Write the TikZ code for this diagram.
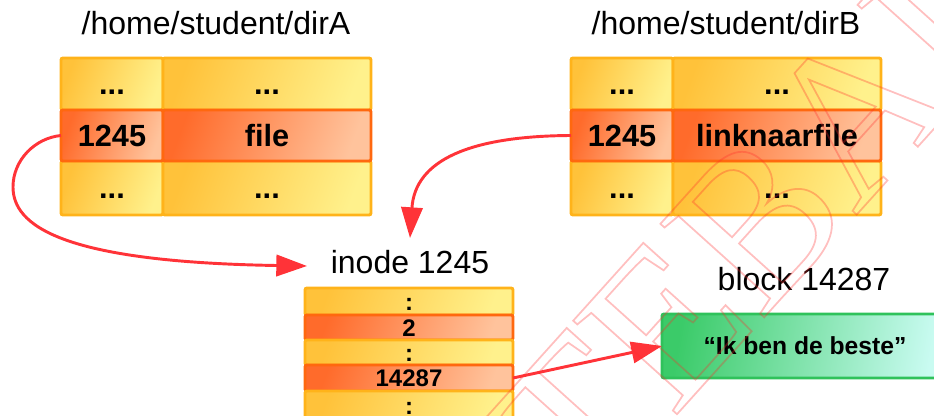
\documentclass[tikz,border=0pt]{standalone}
\usepackage{fontspec}
\setmainfont{Liberation Sans}
\newfontfamily\wmfont{Liberation Serif}
\usetikzlibrary{arrows.meta}

\definecolor{ybord}{HTML}{FFB31A}
\definecolor{yleft}{HTML}{FFC23A}
\definecolor{yright}{HTML}{FFF18C}
\definecolor{obord}{HTML}{FF680F}
\definecolor{oleft}{HTML}{FF6B2B}
\definecolor{oright}{HTML}{FFC39C}
\definecolor{gbord}{HTML}{2FC25B}
\definecolor{gleft}{HTML}{3BCB69}
\definecolor{gright}{HTML}{C9FBF1}
\definecolor{linkred}{HTML}{FF3338}
\definecolor{wmred}{HTML}{FF2A2A}

\begin{document}
\begin{tikzpicture}[x=0.75pt,y=-0.75pt,
  every node/.style={inner sep=0pt, outer sep=0pt},
  sz/.style 2 args={minimum width=#1*0.75pt, minimum height=#2*0.75pt},
  cellbase/.style={rectangle, rounded corners=1.5pt, line width=2.2pt, text depth=0pt},
  dirtext/.style={font=\bfseries\fontsize{23}{23}\selectfont, text height=16.5pt},
  inotext/.style={font=\bfseries\fontsize{18}{18}\selectfont, text height=12.9pt},
  ycell/.style={cellbase, draw=ybord, left color=yleft, right color=yright, shading angle=70},
  ocell/.style={cellbase, draw=obord, left color=oleft, right color=oright, shading angle=70},
  gcell/.style={cellbase, draw=gbord, left color=gleft, right color=gright, shading angle=80,
    font=\bfseries\fontsize{18.5}{18.5}\selectfont, text height=13.2pt},
  title/.style={anchor=base, font=\fontsize{24}{24}\selectfont},
  link/.style={draw=linkred, line width=2.2pt, -{Triangle[length=23pt,width=16pt]}}
]
\useasboundingbox (0,0) rectangle (934,416);

% directory /home/student/dirA
\node[title] (titleA) at (216,35) {/home/student/dirA};
\node[ycell, dirtext, sz={102}{52}] (a11) at (112,84) {...};
\node[ycell, dirtext, sz={208}{52}] (a12) at (267,84) {...};
\node[ycell, dirtext, sz={102}{54}] (a31) at (112,188) {...};
\node[ycell, dirtext, sz={208}{54}] (a32) at (267,188) {...};
\node[ocell, dirtext, sz={102}{51}] (a21) at (112,135.5) {1245};
\node[ocell, dirtext, sz={208}{51}] (a22) at (267,135.5) {file};

% directory /home/student/dirB
\node[title] (titleB) at (726,35) {/home/student/dirB};
\node[ycell, dirtext, sz={102}{52}] (b11) at (622,84) {...};
\node[ycell, dirtext, sz={208}{52}] (b12) at (777,84) {...};
\node[ycell, dirtext, sz={102}{54}] (b31) at (622,188) {...};
\node[ycell, dirtext, sz={208}{54}] (b32) at (777,188) {...};
\node[ocell, dirtext, sz={102}{51}] (b21) at (622,135.5) {1245};
\node[ocell, dirtext, sz={208}{51}] (b22) at (777,135.5) {linknaarfile};

% inode 1245
\node[title] (inolabel) at (410,274) {inode 1245};
\node[ycell, inotext, sz={208}{27}] (i1) at (409,301.5) {:};
\node[ocell, inotext, sz={208}{25}] (i2) at (409,327.5) {2};
\node[ycell, inotext, sz={208}{25}] (i3) at (409,352.5) {:};
\node[ocell, inotext, sz={208}{26}] (i4) at (409,378) {14287};
\node[ycell, inotext, sz={208}{29}] (i5) at (409,405.5) {:};

% data block 14287
\node[title] (blklabel) at (804,291) {block 14287};
\node[gcell, sz={286}{64}] (blk) at (805,346) {“Ik ben de beste”};

% links
\coordinate (inoA) at (307,266);
\coordinate (inoB) at (410,238);
\draw[link] (a21.west) .. controls (35,138) and (13,160) .. (13,187)
  .. controls (13,225) and (60,262) .. (inoA);
\draw[link] (b21.west) .. controls (470,136) and (415,160) .. (inoB);
\draw[link] (i4.east) -- (blk.west);

% watermark
\node[rotate=48, text=wmred, opacity=0.3,
  font=\wmfont\fontsize{160}{160}\selectfont] (wm) at (772,205)
  {\special{pdf:literal direct 1 Tr 1.3 w}TEBAU\special{pdf:literal direct 0 Tr}};
\end{tikzpicture}
\end{document}
